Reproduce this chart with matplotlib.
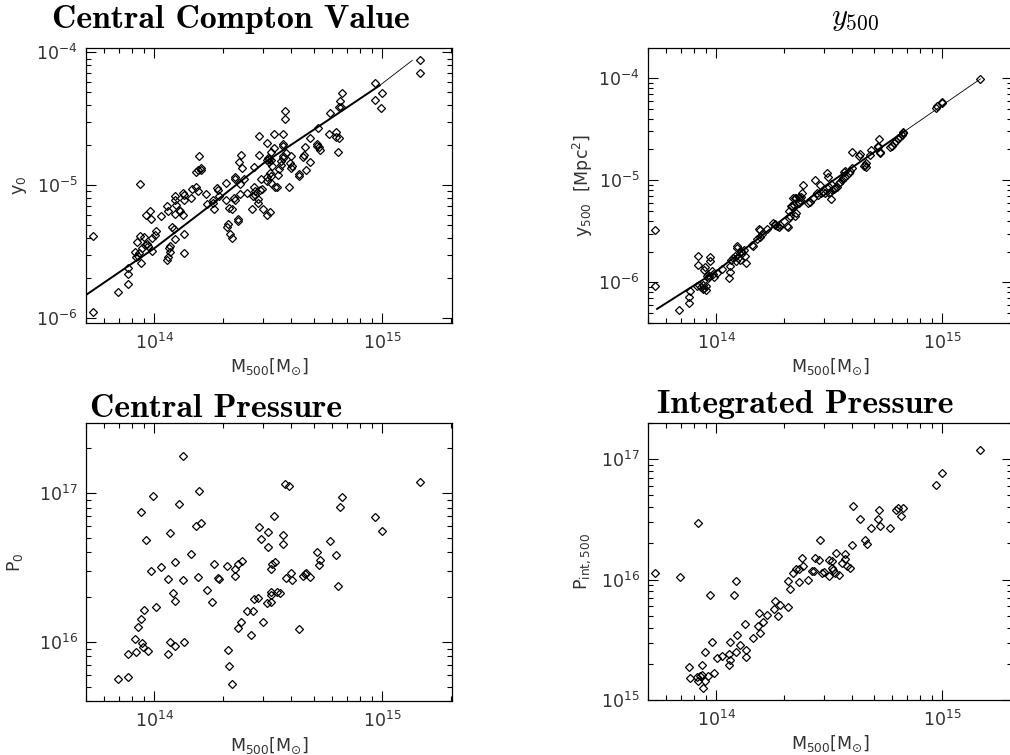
import numpy as np
import matplotlib
matplotlib.use("Agg")
import matplotlib.pyplot as plt
from matplotlib.ticker import NullFormatter

plt.rcParams['font.family'] = ['DejaVu Sans']
plt.rcParams['mathtext.fontset'] = 'dejavusans'
plt.rcParams['mathtext.default'] = 'regular'

# ---- data (log10 values) ----
# Central Compton value y0 vs M500
logm_y0 = [
    13.728, 13.728, 13.839, 13.885, 13.883, 13.885, 13.936, 13.914, 13.918, 13.928,
    13.931, 13.940, 13.921, 13.936, 13.943, 13.953, 13.958, 13.965, 13.972, 13.988,
    13.991, 14.006, 14.003, 13.962, 13.982, 13.984, 14.028, 14.057, 14.061, 14.091,
    14.091, 14.093, 14.091, 14.079, 14.085, 14.089, 14.067, 14.064, 14.066, 14.060,
    14.057, 14.107, 14.111, 14.126, 14.128, 14.128, 14.126, 14.130, 14.130, 14.162,
    14.166, 14.184, 14.191, 14.196, 14.181, 14.191, 14.206, 14.204, 14.228, 14.231,
    14.257, 14.257, 14.260, 14.274, 14.277, 14.282, 14.315, 14.315, 14.326, 14.342,
    14.323, 14.320, 14.330, 14.340, 14.366, 14.366, 14.355, 14.353, 14.349, 14.352,
    14.371, 14.382, 14.384, 14.374, 14.377, 14.394, 15.166, 15.166, 14.969, 14.999,
    14.969, 14.997, 14.822, 14.815, 14.818, 14.810, 14.771, 14.768, 14.796, 14.797,
    14.809, 14.807, 14.718, 14.682, 14.715, 14.721, 14.727, 14.712, 14.663, 14.657,
    14.654, 14.664, 14.683, 14.634, 14.635, 14.591, 14.600, 14.596, 14.603, 14.599,
    14.574, 14.574, 14.564, 14.564, 14.564, 14.566, 14.566, 14.578, 14.555, 14.555,
    14.549, 14.524, 14.526, 14.496, 14.498, 14.496, 14.502, 14.512, 14.511, 14.505,
    14.515, 14.508, 14.511, 14.512, 14.542, 14.540, 14.528, 14.461, 14.460, 14.438,
    14.469, 14.472, 14.464, 14.493, 14.496, 14.438, 14.442, 14.442, 14.432, 14.453,
    14.453, 14.428, 14.476, 14.493, 14.508, 14.406]
log_y0 = [
    -5.380, -5.955, -5.804, -5.742, -5.664, -5.619, -4.991, -5.503, -5.536, -5.531,
    -5.506, -5.581, -5.430, -5.380, -5.473, -5.390, -5.448, -5.440, -5.453, -5.498,
    -5.393, -5.343, -5.373, -5.222, -5.197, -5.255, -5.230, -5.159, -5.197, -5.084,
    -5.109, -5.147, -5.217, -5.315, -5.330, -5.405, -5.460, -5.471, -5.501, -5.536,
    -5.561, -5.189, -5.197, -5.059, -5.072, -5.109, -5.222, -5.370, -5.511, -5.097,
    -5.029, -5.009, -5.046, -4.778, -4.903, -4.883, -4.871, -4.888, -5.066, -5.142,
    -5.109, -5.134, -5.179, -5.021, -5.039, -5.079, -4.979, -5.109, -5.167, -5.179,
    -5.290, -5.310, -5.370, -5.393, -5.252, -5.265, -4.939, -4.954, -5.097, -5.109,
    -4.826, -4.770, -4.871, -4.989, -5.066, -4.954, -4.060, -4.158, -4.233, -4.309,
    -4.359, -4.417, -4.306, -4.366, -4.407, -4.412, -4.457, -4.612, -4.600, -4.637,
    -4.642, -4.753, -4.570, -4.642, -4.690, -4.713, -4.733, -4.703, -4.708, -4.775,
    -4.788, -4.886, -4.823, -4.913, -4.933, -5.009, -4.783, -4.833, -4.851, -4.866,
    -4.444, -4.502, -4.612, -4.690, -4.703, -4.783, -4.795, -4.758, -4.816, -4.846,
    -4.878, -4.612, -4.720, -4.683, -4.795, -4.808, -4.803, -4.748, -4.808, -4.828,
    -4.853, -4.908, -4.933, -4.979, -4.921, -5.014, -5.009, -4.632, -4.770, -4.863,
    -4.954, -5.024, -5.036, -4.939, -4.964, -5.009, -5.046, -5.071, -5.084, -5.104,
    -5.134, -5.177, -5.177, -5.222, -5.200, -5.059]
fit_logm_y0 = [13.700, 14.000, 14.250, 14.480, 14.710, 14.990]
fit_log_y0 = [-5.824, -5.473, -5.145, -4.833, -4.570, -4.248]
ext_logm_y0 = [14.990, 15.133]
ext_log_y0 = [-4.248, -4.060]

# integrated Compton y500 vs M500
logm_y500 = [
    13.728, 13.728, 13.837, 13.881, 13.881, 13.884, 13.918, 13.918, 13.971, 13.971,
    13.950, 13.947, 13.915, 13.925, 13.933, 13.940, 13.947, 13.955, 13.940, 13.955,
    13.962, 13.969, 13.980, 13.984, 13.991, 14.006, 13.959, 14.028, 14.057, 14.061,
    14.061, 14.067, 14.076, 14.086, 14.082, 14.091, 14.094, 14.097, 14.108, 14.116,
    14.126, 14.130, 14.105, 14.123, 14.160, 14.164, 14.182, 14.189, 14.193, 14.196,
    14.204, 14.225, 14.252, 14.258, 14.262, 14.269, 14.277, 14.281, 14.313, 14.316,
    14.321, 14.328, 14.335, 14.343, 14.350, 14.354, 14.365, 14.369, 14.375, 14.379,
    14.384, 14.365, 14.354, 14.350, 14.340, 14.331, 14.321, 14.408, 14.416, 14.430,
    14.438, 14.445, 14.452, 14.457, 14.463, 14.471, 14.482, 14.490, 14.495, 14.498,
    14.505, 14.508, 14.501, 14.508, 14.512, 14.520, 14.527, 14.534, 14.542, 14.549,
    14.556, 14.561, 14.564, 14.568, 14.571, 14.586, 14.593, 14.600, 14.602, 14.630,
    14.634, 14.654, 14.656, 14.662, 14.663, 14.681, 14.685, 14.715, 14.717, 14.720,
    14.722, 14.725, 14.770, 14.776, 14.788, 14.795, 14.805, 14.813, 14.820, 14.824,
    14.827, 14.971, 14.978, 14.996, 15.000, 15.168]
log_y500 = [
    -5.486, -6.033, -6.267, -6.202, -6.146, -6.081, -5.746, -5.828, -5.753, -5.789,
    -5.850, -5.883, -6.033, -6.023, -6.046, -6.065, -6.055, -6.072, -6.023, -6.033,
    -5.958, -5.935, -5.893, -5.915, -5.948, -5.909, -5.941, -5.870, -5.958, -5.899,
    -5.837, -5.779, -5.763, -5.795, -5.740, -5.649, -5.665, -5.763, -5.698, -5.714,
    -5.740, -5.811, -5.779, -5.681, -5.633, -5.649, -5.577, -5.480, -5.493, -5.558,
    -5.525, -5.480, -5.415, -5.428, -5.437, -5.447, -5.454, -5.437, -5.447, -5.460,
    -5.372, -5.356, -5.252, -5.242, -5.350, -5.324, -5.226, -5.193, -5.161, -5.122,
    -5.047, -5.161, -5.171, -5.177, -5.177, -5.252, -5.307, -5.226, -5.210, -5.177,
    -4.998, -5.128, -5.145, -5.047, -5.128, -5.112, -5.122, -4.933, -4.966, -5.128,
    -5.112, -5.037, -5.070, -5.187, -5.096, -5.089, -5.080, -5.063, -5.031, -5.015,
    -4.998, -4.982, -4.917, -4.966, -4.907, -4.933, -4.911, -4.885, -4.725, -4.764,
    -4.748, -4.862, -4.852, -4.829, -4.868, -4.754, -4.706, -4.667, -4.673, -4.595,
    -4.722, -4.738, -4.680, -4.667, -4.634, -4.615, -4.592, -4.576, -4.559, -4.543,
    -4.527, -4.299, -4.276, -4.250, -4.234, -4.010]
fit_logm_y500 = [13.739, 14.000, 14.489, 14.830]
fit_log_y500 = [-6.260, -5.893, -5.047, -4.527]
ext_logm_y500 = [14.830, 15.168]
ext_log_y500 = [-4.527, -4.010]

# central pressure P0 vs M500
logm_p0 = [
    13.839, 13.885, 13.882, 13.917, 13.914, 13.926, 13.940, 13.956, 13.943, 13.950,
    13.972, 13.939, 13.962, 13.984, 13.993, 14.006, 14.029, 14.058, 14.066, 14.082,
    14.092, 14.092, 14.058, 14.066, 14.088, 14.108, 14.126, 14.126, 14.130, 14.162,
    14.181, 14.193, 14.197, 14.204, 14.229, 14.254, 14.261, 14.277, 14.282, 14.318,
    14.323, 14.326, 14.342, 14.352, 14.355, 14.365, 14.369, 14.380, 14.385, 14.406,
    14.426, 14.434, 14.439, 14.454, 14.460, 14.467, 14.476, 14.493, 14.499, 14.498,
    14.511, 14.511, 14.512, 14.511, 14.518, 14.526, 14.531, 14.540, 14.553, 14.564,
    14.565, 14.574, 14.577, 14.590, 14.600, 14.604, 14.634, 14.651, 14.661, 14.664,
    14.683, 14.714, 14.723, 14.728, 14.771, 14.796, 14.807, 14.815, 14.823, 14.971,
    14.999, 15.169]
log_p0 = [
    15.748, 15.764, 15.915, 15.933, 16.022, 16.101, 16.151, 16.213, 15.989, 15.966,
    15.937, 16.872, 16.685, 16.476, 16.978, 16.234, 16.503, 16.420, 16.730, 16.326,
    16.276, 16.535, 15.921, 15.996, 15.971, 16.926, 17.252, 16.413, 15.996, 16.591,
    16.780, 16.438, 17.013, 16.802, 16.346, 16.265, 16.521, 16.427, 16.420, 16.510,
    15.944, 15.836, 15.715, 16.490, 16.443, 16.090, 16.521, 16.135, 16.544, 16.207,
    16.049, 16.209, 16.285, 16.292, 16.771, 16.692, 16.135, 16.258, 16.640, 16.737,
    16.488, 16.315, 16.270, 16.335, 16.524, 16.847, 16.537, 16.335, 16.326, 16.717,
    16.658, 17.063, 16.429, 17.049, 16.465, 16.413, 16.083, 16.443, 16.456, 16.461,
    16.438, 16.602, 16.517, 16.548, 16.676, 16.584, 16.378, 16.906, 16.973, 16.838,
    16.744, 17.074]

# integrated pressure Pint,500 vs M500
logm_pint = [
    13.729, 13.839, 13.918, 13.971, 14.081, 14.088, 13.881, 13.884, 13.914, 13.921,
    13.928, 13.939, 13.939, 13.941, 13.952, 13.962, 13.949, 13.981, 13.990, 14.003,
    14.028, 14.057, 14.063, 14.059, 14.063, 14.088, 14.092, 14.105, 14.127, 14.130,
    14.130, 14.161, 14.183, 14.193, 14.190, 14.205, 14.227, 14.255, 14.259, 14.275,
    14.281, 14.318, 14.319, 14.328, 14.341, 14.351, 14.365, 14.366, 14.378, 14.385,
    14.407, 14.425, 14.432, 14.436, 14.454, 14.461, 14.469, 14.476, 14.498, 14.498,
    14.510, 14.512, 14.515, 14.527, 14.531, 14.542, 14.556, 14.568, 14.571, 14.577,
    14.593, 14.600, 14.603, 14.634, 14.659, 14.666, 14.684, 14.714, 14.720, 14.726,
    14.770, 14.794, 14.805, 14.817, 14.826, 14.971, 15.000, 15.168]
log_pint = [
    16.058, 16.022, 16.467, 15.875, 15.869, 15.992, 15.272, 15.186, 15.194, 15.161,
    15.200, 15.294, 15.206, 15.100, 15.161, 15.200, 15.397, 15.483, 15.228, 15.353,
    15.367, 15.294, 15.333, 15.378, 15.483, 15.397, 15.536, 15.458, 15.631, 15.417,
    15.358, 15.519, 15.611, 15.558, 15.722, 15.650, 15.708, 15.758, 15.819, 15.700,
    15.792, 15.769, 15.986, 15.919, 16.056, 16.092, 15.978, 16.092, 16.183, 16.117,
    16.000, 16.069, 16.072, 16.183, 16.167, 16.328, 16.056, 16.061, 16.167, 16.028,
    16.153, 16.100, 16.078, 16.056, 16.222, 16.036, 16.139, 16.211, 16.175, 16.111,
    16.100, 16.286, 16.611, 16.503, 16.333, 16.292, 16.431, 16.500, 16.575, 16.444,
    16.431, 16.578, 16.597, 16.531, 16.592, 16.786, 16.886, 17.075]

xlim = (5.0e13, 2.03e15)
tick_col = '#333333'

fig = plt.figure(figsize=(10.1, 7.55), dpi=100)
W, H = 1010.0, 755.0


def make_axes(left, top, right, bottom, ylim):
    ax = fig.add_axes([left / W, 1 - bottom / H, (right - left) / W, (bottom - top) / H])
    ax.set_xscale('log')
    ax.set_yscale('log')
    ax.set_xlim(*xlim)
    ax.set_ylim(*ylim)
    ax.tick_params(which='both', direction='in', top=True, right=True,
                   labelsize=12.5, labelcolor=tick_col, width=0.8, color='black')
    ax.tick_params(which='major', length=7)
    ax.tick_params(which='minor', length=3.5)
    ax.tick_params(axis='x', pad=7)
    ax.tick_params(axis='y', pad=6)
    ax.xaxis.set_minor_formatter(NullFormatter())
    ax.yaxis.set_minor_formatter(NullFormatter())
    for s in ax.spines.values():
        s.set_linewidth(0.9)
    return ax


def scatter(ax, lm, ly):
    ax.plot(10 ** np.array(lm), 10 ** np.array(ly), ls='none', marker='D', ms=3.8,
            mfc='none', mec='black', mew=0.9)


def labels(ax, ylab, ylab_x):
    ax.set_xlabel(r'M$_{500}$[M$_{\odot}$]', fontsize=12.5, color=tick_col)
    ax.xaxis.set_label_coords(0.5, -0.16)
    ax.xaxis.label.set_va('center')
    ax.set_ylabel(ylab, fontsize=12.5, color=tick_col)
    ax.yaxis.set_label_coords(ylab_x, 0.5)
    ax.yaxis.label.set_va('center')


# panel 1: central Compton value
ax1 = make_axes(86, 48, 452, 323, (9.2e-7, 1.08e-4))
scatter(ax1, logm_y0, log_y0)
ax1.plot(10 ** np.array(fit_logm_y0), 10 ** np.array(fit_log_y0), color='black', lw=1.4)
ax1.plot(10 ** np.array(ext_logm_y0), 10 ** np.array(ext_log_y0), color='black', lw=0.6)
labels(ax1, r'y$_0$', -0.18)

# panel 2: y500
ax2 = make_axes(648, 48, 1012, 323, (4.0e-7, 1.96e-4))
scatter(ax2, logm_y500, log_y500)
ax2.plot(10 ** np.array(fit_logm_y500), 10 ** np.array(fit_log_y500), color='black', lw=1.4)
ax2.plot(10 ** np.array(ext_logm_y500), 10 ** np.array(ext_log_y500), color='black', lw=0.6)
labels(ax2, r'y$_{500}$  [Mpc$^2$]', -0.18)

# panel 3: central pressure
ax3 = make_axes(86, 423, 452, 701, (4.0e15, 2.96e17))
scatter(ax3, logm_p0, log_p0)
labels(ax3, r'P$_0$', -0.195)

# panel 4: integrated pressure
ax4 = make_axes(648, 423, 1012, 700, (1.0e15, 2.0e17))
scatter(ax4, logm_pint, log_pint)
labels(ax4, r'P$_{int,500}$', -0.18)

# titles
title_kw = dict(fontfamily='cmb10', fontsize=24.3, ha='center', va='baseline')
fig.text(231 / W, 1 - 28 / H, 'Central Compton Value', **title_kw)
fig.text(216 / W, 1 - 417 / H, 'Central Pressure', **title_kw)
fig.text(805 / W, 1 - 413 / H, 'Integrated Pressure', **title_kw)
fig.text(855 / W, 1 - 25 / H, r'$\mathit{y}_{\mathrm{500}}$', fontsize=22,
         ha='center', va='baseline', math_fontfamily='cm')

fig.savefig('out.png', dpi=100)
